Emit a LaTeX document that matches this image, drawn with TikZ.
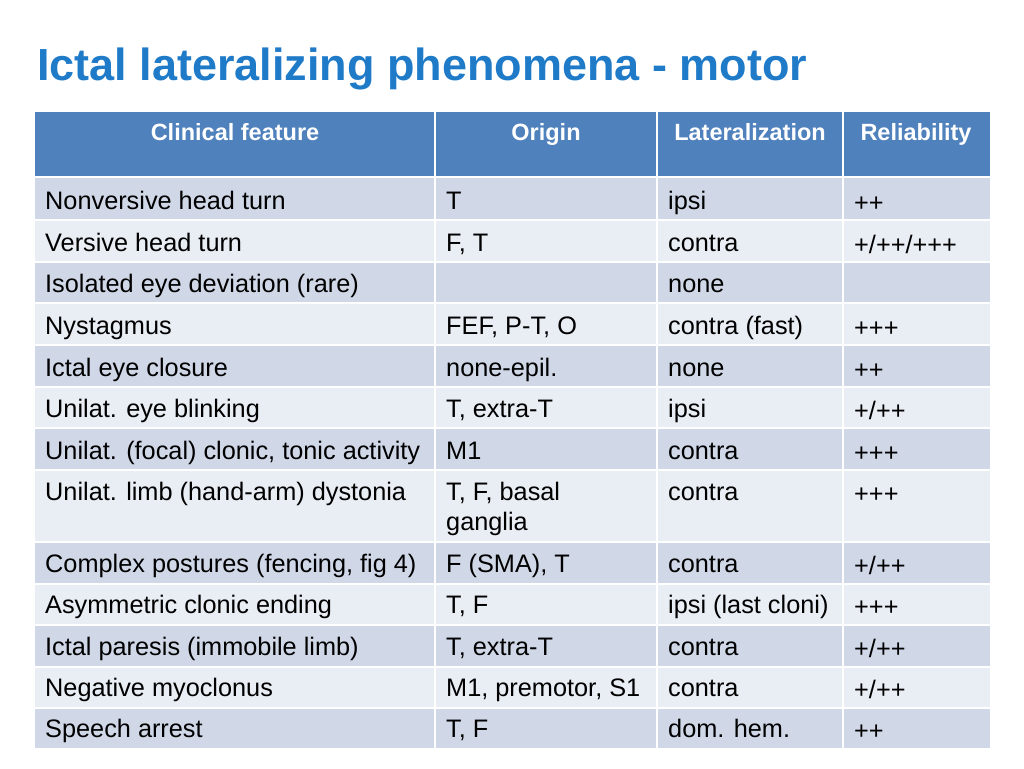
\documentclass[tikz,border=0pt]{standalone}
\usepackage{fontspec}
\setmainfont{Liberation Sans}
\usetikzlibrary{positioning}
\definecolor{titleblue}{HTML}{1F7BC8}
\definecolor{headblue}{HTML}{4F81BD}
\definecolor{rowdark}{HTML}{D0D8E8}
\definecolor{rowlight}{HTML}{E9EDF4}
\tikzset{
  cell/.style={anchor=base west, inner sep=0pt, font=\fontsize{25.3}{30}\selectfont},
  head/.style={anchor=base, inner sep=0pt, font=\fontsize{23.5}{29}\selectfont\bfseries, text=white},
  grid/.style={white, line width=2.5pt}
}
\begin{document}
\begin{tikzpicture}[x=1pt,y=-1pt]
    \useasboundingbox (0,0) rectangle (1024,768);
    \node[anchor=base west, inner sep=0pt, text=titleblue, font=\fontsize{45}{52}\selectfont\bfseries] (title) at (37,80) {Ictal lateralizing phenomena - motor};

    % backgrounds
    \fill[headblue] (35,112) rectangle (990,177);
    \foreach \top/\bot/\c in {177/220/rowdark,220/262/rowlight,262/303/rowdark,303/345/rowlight,345/387/rowdark,387/428/rowlight,428/470/rowdark,470/542/rowlight,542/584/rowdark,584/625/rowlight,625/667/rowdark,667/708/rowlight,708/748/rowdark}
        \fill[\c] (35,\top) rectangle (990,\bot);
    \foreach \y in {177,220,262,303,345,387,428,470,542,584,625,667,708}
        \draw[grid] (35,\y) -- (990,\y);
    \foreach \x in {435,657,843}
        \draw[grid] (\x,112) -- (\x,748);

    % header
    \node[head] (h1) at (235,140) {Clinical feature};
    \node[head] (h2) at (546,140) {Origin};
    \node[head] (h3) at (750,140) {Lateralization};
    \node[head] (h4) at (916,140) {Reliability};

    % rows
    \foreach \n/\y/\a/\b/\c/\d in {
        1/209/Nonversive head turn/T/ipsi/++,
        2/251/Versive head turn/{F, T}/contra/{+/++/+++},
        3/292/Isolated eye deviation (rare)//none/,
        4/334/Nystagmus/{FEF, P-T, O}/contra (fast)/+++,
        5/376/Ictal eye closure/none-epil./none/++,
        6/417/Unilat. eye blinking/{T, extra-T}/ipsi/{+/++},
        7/459/{Unilat. (focal) clonic, tonic activity}/M1/contra/+++,
        8/500/Unilat. limb (hand-arm) dystonia/{T, F, basal}/contra/+++,
        9/572/{Complex postures (fencing, fig 4)}/{F (SMA), T}/contra/{+/++},
        10/613/Asymmetric clonic ending/{T, F}/ipsi (last cloni)/+++,
        11/655/Ictal paresis (immobile limb)/{T, extra-T}/contra/{+/++},
        12/696/Negative myoclonus/{M1, premotor, S1}/contra/{+/++},
        13/737/Speech arrest/{T, F}/dom. hem./++}{
        \node[cell] (a\n) at (45,\y) {\a};
        \node[cell] (b\n) at (446,\y) {\b};
        \node[cell] (c\n) at (668,\y) {\c};
        \node[cell] (d\n) at (854,\y+2) {\d};
    }
    \node[cell] (b8x) at (446,530) {ganglia};
\end{tikzpicture}
\end{document}
